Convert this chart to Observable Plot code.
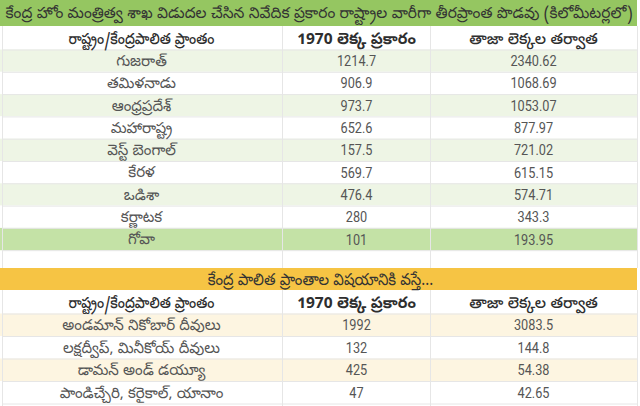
<!DOCTYPE html>
<html>
<head>
<meta charset="utf-8">
<script src="https://cdn.jsdelivr.net/npm/d3@7"></script>
<script src="https://cdn.jsdelivr.net/npm/@observablehq/plot@0.6"></script>
<style>
  html, body { margin: 0; padding: 0; background: #fff; }
  #chart svg { display: block; }
</style>
</head>
<body>
<div id="chart"></div>
<script>
// ---- data ----
const title = "కేంద్ర హోం మంత్రిత్వ శాఖ విడుదల చేసిన నివేదిక ప్రకారం రాష్ట్రాల వారీగా తీరప్రాంత పొడవు (కిలోమీటర్లలో)";
const colHeaders = ["రాష్ట్రం/కేంద్రపాలిత ప్రాంతం", "1970 లెక్క ప్రకారం", "తాజా లెక్కల తర్వాత"];
const states = ["గుజరాత్", "తమిళనాడు", "ఆంధ్రప్రదేశ్", "మహారాష్ట్ర", "వెస్ట్ బెంగాల్", "కేరళ", "ఒడిశా", "కర్ణాటక", "గోవా"];
const states1970 = [1214.7, 906.9, 973.7, 652.6, 157.5, 569.7, 476.4, 280, 101];
const statesLatest = [2340.62, 1068.69, 1053.07, 877.97, 721.02, 615.15, 574.71, 343.3, 193.95];
const utSubtitle = "కేంద్ర పాలిత ప్రాంతాల విషయానికి వస్తే...";
const uts = ["అండమాన్ నికోబార్ దీవులు", "లక్షద్వీప్, మినీకోయ్ దీవులు", "డామన్ అండ్ డయ్యూ", "పాండిచ్చేరి, కరైకాల్, యానాం"];
const uts1970 = [1992, 132, 425, 47];
const utsLatest = [3083.5, 144.8, 54.38, 42.65];

// ---- layout ----
const W = 640, H = 406;
const colEdges = [2, 282, 430, 637];
const colCenters = [141, 356, 533];
const C = {
  titleGreen: "#95c661", stripeGreen: "#eef5e5", goaGreen: "#c4e2a6",
  yellow: "#f6c444", stripeYellow: "#fdf5e1", grid: "#e6e6e6",
  title: "#333333", head: "#2e2e2e", cell: "#555555"
};
const FONT = "'Noto Sans Telugu', 'Noto Sans', Roboto, sans-serif";
const NUMFONT = "Roboto, 'Noto Sans', sans-serif";

const bands = [], texts = [], hlines = [];
let y = 0;
function band(h, fill, x1 = 0, x2 = colEdges[3]) {
  const b = {y1: y, y2: y + h, fill, x1, x2};
  bands.push(b); y += h; return b;
}
const tb = band(26, C.titleGreen);
texts.push({x: 5, y: (tb.y1 + tb.y2) / 2, text: title, size: 15.4, fill: C.title, anchor: "start", weight: 400, font: FONT, fit: {width: 627}});
function header() {
  const hb = band(23.5, "#ffffff");
  colHeaders.forEach((t, i) => texts.push({x: colCenters[i], y: (hb.y1 + hb.y2) / 2 + 0.5, text: t, size: 15.5,
    fill: C.head, anchor: "middle", weight: i === 1 ? 700 : 500, font: FONT, fit: i === 0 ? {width: 146} : null}));
  hlines.push(hb.y2);
}
function row(vals, fill, h) {
  const b = band(h, fill);
  const cy = (b.y1 + b.y2) / 2;
  vals.forEach((t, j) => texts.push({x: colCenters[j], y: cy, text: t, size: j === 0 ? 15 : 15.5,
    fill: C.cell, anchor: "middle", weight: 400, font: j === 0 ? FONT : NUMFONT, fit: j === 0 ? null : {factor: 0.82}}));
  hlines.push(b.y2);
}
header();
states.forEach((s, i) => {
  const fill = i === states.length - 1 ? C.goaGreen : (i % 2 === 0 ? C.stripeGreen : "#ffffff");
  row([s, String(states1970[i]), String(statesLatest[i])], fill, 22.3);
});
y = 268;
const yb = band(22, C.yellow);
texts.push({x: 320, y: (yb.y1 + yb.y2) / 2, text: utSubtitle, size: 16.5, fill: C.title, anchor: "middle", weight: 400, font: FONT, fit: {factor: 0.9}});
header();
uts.forEach((s, i) => row([s, String(uts1970[i]), String(utsLatest[i])], i % 2 === 0 ? C.stripeYellow : "#ffffff", 22.5));

const vsegs = [];
colEdges.forEach(x => { vsegs.push({x, y1: 26, y2: 268}); vsegs.push({x, y1: 290, y2: H}); });

const groups = d3.groups(texts, d => [d.size, d.weight, d.anchor, d.font].join("|"));
const textMarks = groups.map(([k, sub]) => Plot.text(sub, {x: "x", y: "y", text: "text", fill: "fill",
  fontSize: sub[0].size, fontWeight: sub[0].weight, textAnchor: sub[0].anchor, lineAnchor: "middle", fontFamily: sub[0].font}));

const chart = Plot.plot({
  width: W, height: H, margin: 0,
  x: {domain: [0, W], range: [0, W], axis: null},
  y: {domain: [0, H], range: [0, H], axis: null},
  style: {background: "#ffffff", fontFamily: FONT},
  marks: [
    Plot.rect(bands, {x1: "x1", x2: "x2", y1: "y1", y2: "y2", fill: "fill"}),
    Plot.ruleY(hlines, {x1: colEdges[0], x2: colEdges[3], stroke: C.grid, strokeWidth: 1}),
    Plot.ruleX(vsegs, {x: "x", y1: "y1", y2: "y2", stroke: C.grid, strokeWidth: 1}),
    ...textMarks
  ]
});
document.getElementById("chart").append(chart);

// condense glyph widths to match the reference's narrower typeface
const gs = chart.querySelectorAll('g[aria-label="text"]');
gs.forEach((g, gi) => {
  const sub = groups[gi] ? groups[gi][1] : [];
  g.querySelectorAll("text").forEach((el, i) => {
    const d = sub[i];
    if (!d || !d.fit) return;
    const len = el.getComputedTextLength();
    el.setAttribute("textLength", d.fit.width ?? len * d.fit.factor);
    el.setAttribute("lengthAdjust", "spacingAndGlyphs");
  });
});
</script>
</body>
</html>
